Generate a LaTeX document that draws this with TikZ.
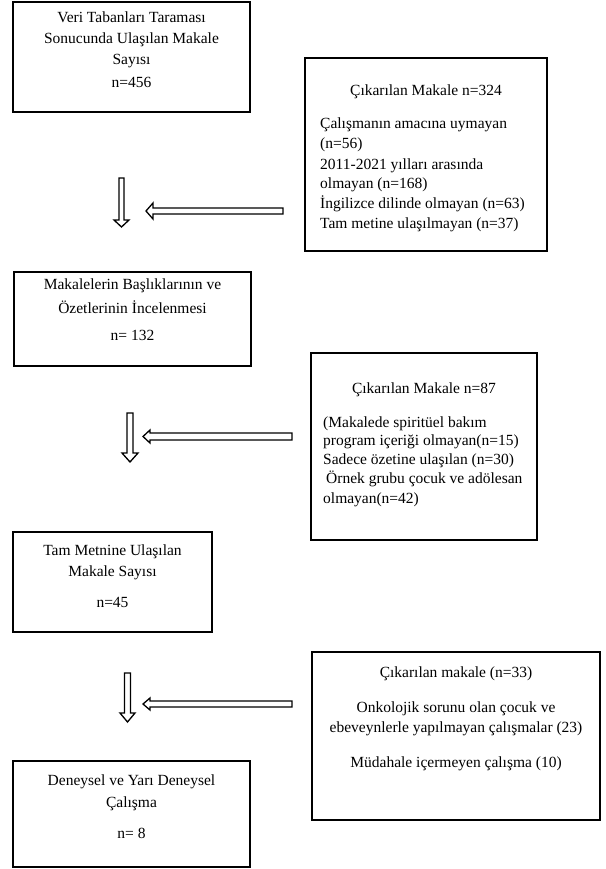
\documentclass[tikz,border=0pt]{standalone}
\usepackage{fontspec}
\setmainfont{Liberation Serif}
\begin{document}
\begin{tikzpicture}[x=1pt,y=-1pt,
  box/.style={draw=black, line width=2pt, inner sep=0pt, outer sep=0pt, anchor=north west},
  txt/.style={inner sep=0pt, font=\fontsize{15.5}{19}\selectfont, anchor=base},
  ltxt/.style={inner sep=0pt, font=\fontsize{15.5}{19}\selectfont, anchor=base west},
  blockarrow/.style={draw=black, line width=1.3pt, fill=white, line join=miter}]
\useasboundingbox (0,0) rectangle (605,869);

% boxes
\node[box, minimum width=237pt, minimum height=110pt] (b1) at (13,2) {};
\node[box, minimum width=242pt, minimum height=193pt] (b2) at (305,58) {};
\node[box, minimum width=237pt, minimum height=94pt]  (b3) at (14,272) {};
\node[box, minimum width=226pt, minimum height=187pt] (b4) at (311,353) {};
\node[box, minimum width=199pt, minimum height=100pt] (b5) at (13,532) {};
\node[box, minimum width=288pt, minimum height=168pt] (b6) at (312,652) {};
\node[box, minimum width=237pt, minimum height=106pt] (b7) at (13,761) {};

% box 1 text
\node[txt] (t1a) at (131.5,23) {Veri Tabanları Taraması};
\node[txt] (t1b) at (131.5,44) {Sonucunda Ulaşılan Makale};
\node[txt] (t1c) at (131.5,65) {Sayısı};
\node[txt] (t1d) at (131.5,88) {n=456};

% box 2 text
\node[txt] (t2a) at (426,96) {Çıkarılan Makale n=324};
\node[ltxt] (t2b) at (320,129) {Çalışmanın amacına uymayan};
\node[ltxt] (t2c) at (320,149) {(n=56)};
\node[ltxt] (t2d) at (320,169) {2011-2021 yılları arasında};
\node[ltxt] (t2e) at (320,188) {olmayan (n=168)};
\node[ltxt] (t2f) at (320,208) {İngilizce dilinde olmayan (n=63)};
\node[ltxt] (t2g) at (320,228) {Tam metine ulaşılmayan (n=37)};

% box 3 text
\node[txt] (t3a) at (132.5,289) {Makalelerin Başlıklarının ve};
\node[txt] (t3b) at (132.5,313) {Özetlerinin İncelenmesi};
\node[txt] (t3c) at (132.5,340) {n= 132};

% box 4 text
\node[txt] (t4a) at (424,393) {Çıkarılan Makale n=87};
\node[ltxt] (t4b) at (323,427) {(Makalede spiritüel bakım};
\node[ltxt] (t4c) at (323,445) {program içeriği olmayan(n=15)};
\node[ltxt] (t4d) at (323,464) {Sadece özetine ulaşılan (n=30)};
\node[ltxt] (t4e) at (326,483) {Örnek grubu çocuk ve adölesan};
\node[ltxt] (t4f) at (323,503) {olmayan(n=42)};

% box 5 text
\node[txt] (t5a) at (112.5,555) {Tam Metnine Ulaşılan};
\node[txt] (t5b) at (112.5,576) {Makale Sayısı};
\node[txt] (t5c) at (112.5,607) {n=45};

% box 6 text
\node[txt] (t6a) at (456,677) {Çıkarılan makale (n=33)};
\node[txt] (t6b) at (456,712) {Onkolojik sorunu olan çocuk ve};
\node[txt] (t6c) at (456,732) {ebeveynlerle yapılmayan çalışmalar (23)};
\node[txt] (t6d) at (456,767) {Müdahale içermeyen çalışma (10)};

% box 7 text
\node[txt] (t7a) at (131.5,785) {Deneysel ve Yarı Deneysel};
\node[txt] (t7b) at (131.5,807) {Çalışma};
\node[txt] (t7c) at (131.5,838) {n= 8};

% block arrows (down)
\draw[blockarrow] (119,178) -- (124,178) -- (124,220) -- (129,220) -- (121.5,227) -- (114,220) -- (119,220) -- cycle;
\draw[blockarrow] (127,413) -- (133,413) -- (133,453) -- (138,453) -- (130,462) -- (122,453) -- (127,453) -- cycle;
\draw[blockarrow] (124.5,673) -- (130.5,673) -- (130.5,713) -- (135,713) -- (127.5,722) -- (120,713) -- (124.5,713) -- cycle;

% block arrows (left)
\draw[blockarrow] (283,208) -- (283,214) -- (153,214) -- (153,219) -- (146,211) -- (153,203) -- (153,208) -- cycle;
\draw[blockarrow] (292,433) -- (292,440) -- (150,440) -- (150,443) -- (143,436.5) -- (150,430) -- (150,433) -- cycle;
\draw[blockarrow] (292,701) -- (292,707) -- (150,707) -- (150,710) -- (143,704) -- (150,698) -- (150,701) -- cycle;
\end{tikzpicture}
\end{document}
